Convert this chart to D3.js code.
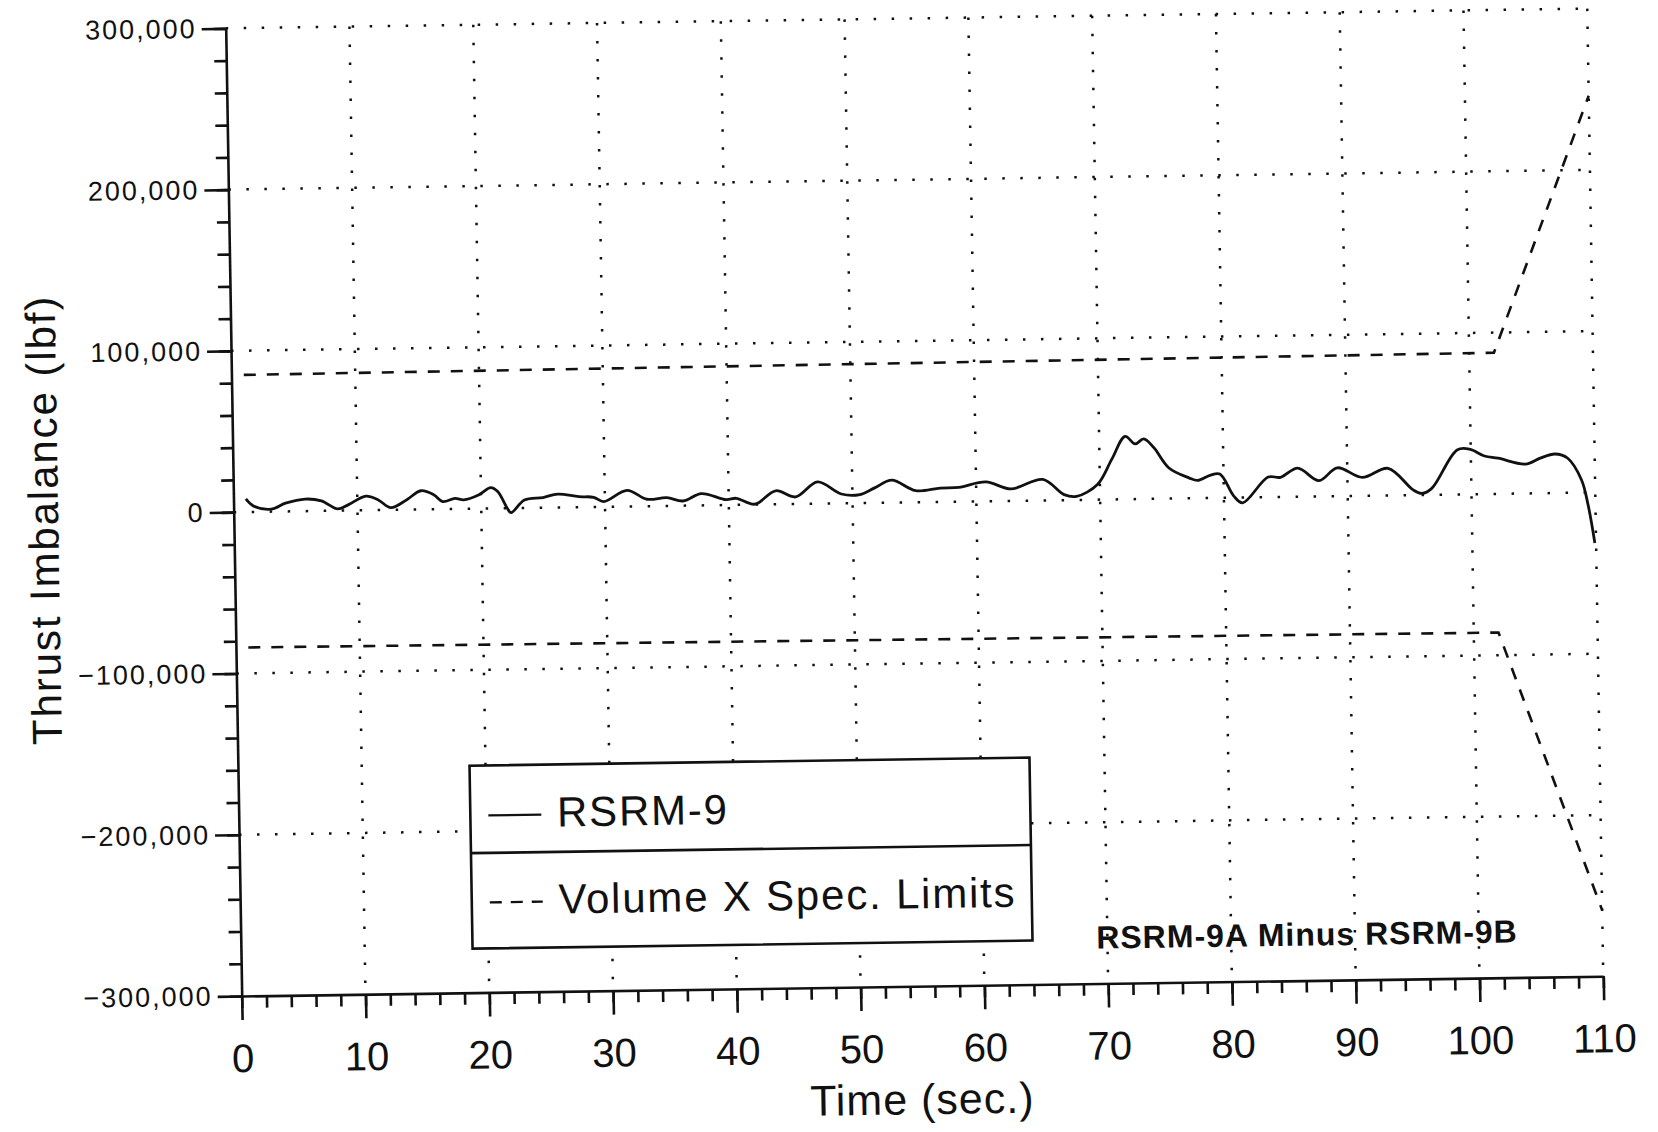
<!DOCTYPE html>
<html>
<head>
<meta charset="utf-8">
<script src="https://cdn.jsdelivr.net/npm/d3@7"></script>
<style>
  body { margin: 0; background: #fff; }
  text { font-family: "Liberation Sans", Arial, sans-serif; fill: #111; }
</style>
</head>
<body>
<div id="chart"></div>
<script>
// RSRM-9 thrust imbalance (lbf) against time (sec.)
const rsrmTime = [1.0, 1.6, 3.05, 4.2, 5.8, 7.1, 8.4, 9.25, 10.7, 11.7, 12.7, 14.0, 15.15, 16.2, 16.9, 17.9, 18.6, 19.8,
  20.8, 21.35, 22.1, 22.4, 23.5, 25.0, 26.2, 27.9, 29.1, 29.9, 31.8, 33.4, 35.0, 36.3, 37.8, 39.8, 40.6, 42.1, 43.8,
  45.4, 47.2, 49.1, 50.6, 51.8, 53.2, 55.1, 57.1, 58.6, 60.8, 62.8, 65.4, 67.1, 68.1, 69.8, 71.0, 72.1, 72.9, 73.6,
  74.4, 75.6, 77.2, 77.9, 78.9, 79.7, 80.8, 81.5, 83.6, 84.6, 86.0, 87.7, 89.2, 91.2, 93.3, 95.3, 96.0, 96.8, 98.9,
  99.9, 101.1, 102.2, 104.4, 105.6, 106.8, 107.8, 108.9, 109.4, 109.9];
const rsrmValue = [8100, 3700, 1500, 5100, 7500, 6200, 1100, 3500, 8800, 6300, 1400, 6200, 11600, 8900, 4700, 6600, 5600, 8500,
  12900, 10400, 0, -2800, 4900, 6300, 8300, 6500, 6000, 3200, 10000, 4300, 5100, 2900, 7300, 3300, 4100, 250, 8400,
  4400, 13500, 5800, 5300, 9300, 13900, 7200, 8600, 8900, 12000, 7400, 13000, 3400, 2200, 9400, 25000, 39000, 34200, 37300,
  31800, 19000, 12700, 11000, 14100, 14800, 1000, -3300, 12500, 12200, 17800, 9800, 17600, 11400, 16800, 3200, 1000, 4000, 27600,
  28000, 23600, 22100, 18200, 21800, 24200, 21600, 8000, -7500, -31300];

// Volume X spec. limits
const limitTime = [1, 102, 110];
const upperLimit = [85000, 87500, 246000];
const lowerLimit = [-84000, -86000, -259000];

// axis ticks
const yMajorTicks = [-300000, -200000, -100000, 0, 100000, 200000, 300000];
const yGridTicks = [-200000, -100000, 0, 100000, 200000, 300000];
const xMajorTicks = [0, 10, 20, 30, 40, 50, 60, 70, 80, 90, 100, 110];
const xGridTicks = [10, 20, 30, 40, 50, 60, 70, 80, 90, 100, 110];

const legendLabels = ["RSRM-9", "Volume X Spec. Limits"];

const width = 1658, height = 1132;
const W = 1361.7, H = 967.8;

const svg = d3.select("#chart").append("svg")
  .attr("width", width)
  .attr("height", height)
  .style("background", "#fff");

// the scanned page sits slightly skewed
const g = svg.append("g")
  .attr("transform", "matrix(0.9999,-0.01449,0.01653,0.99986,225.7,28.34)");

const x = d3.scaleLinear().domain([0, 110]).range([0, W]);
const y = d3.scaleLinear().domain([-300000, 300000]).range([H, 0]);

//////////////// dotted grid ////////////////
const grid = g.append("g").attr("class", "grid")
  .style("stroke", "#111")
  .style("stroke-width", 2.5)
  .style("stroke-dasharray", "2.5 15.5");

grid.selectAll(".hgrid").data(yGridTicks).enter().append("line")
  .attr("x1", 0).attr("x2", x(110))
  .attr("y1", d => y(d)).attr("y2", d => y(d));

grid.selectAll(".vgrid").data(xGridTicks).enter().append("line")
  .attr("x1", d => x(d)).attr("x2", d => x(d))
  .attr("y1", y(300000)).attr("y2", y(-300000));

//////////////// series ////////////////
const line = d3.line()
  .x(d => x(d[0]))
  .y(d => y(d[1]));

g.append("path")
  .datum(limitTime.map((t, i) => [t, upperLimit[i]]))
  .attr("d", line)
  .style("fill", "none").style("stroke", "#111")
  .style("stroke-width", 2.6).style("stroke-dasharray", "12 11");

g.append("path")
  .datum(limitTime.map((t, i) => [t, lowerLimit[i]]))
  .attr("d", line)
  .style("fill", "none").style("stroke", "#111")
  .style("stroke-width", 2.6).style("stroke-dasharray", "12 11");

g.append("path")
  .datum(rsrmTime.map((t, i) => [t, rsrmValue[i]]))
  .attr("d", line.curve(d3.curveCatmullRom.alpha(0.5)))
  .style("fill", "none").style("stroke", "#111")
  .style("stroke-width", 2.8).style("stroke-linejoin", "round");

//////////////// axes ////////////////
const yMinor = g.append("g")
  .call(d3.axisLeft(y).tickValues(d3.range(-300000, 300001, 20000)).tickSize(12).tickFormat(""));
yMinor.select(".domain").remove();

const yAxis = g.append("g")
  .call(d3.axisLeft(y).tickValues(yMajorTicks).tickSize(24).tickSizeOuter(0)
    .tickPadding(5).tickFormat(d3.format(",")));
yAxis.selectAll("text")
  .style("font-size", "27px")
  .style("letter-spacing", "2px");

const xMinor = g.append("g").attr("transform", `translate(0,${H})`)
  .call(d3.axisBottom(x).tickValues(d3.range(0, 111, 2)).tickSize(12).tickFormat(""));
xMinor.select(".domain").remove();

const xAxis = g.append("g").attr("transform", `translate(0,${H})`)
  .call(d3.axisBottom(x).tickValues(xMajorTicks).tickSize(24).tickSizeOuter(0));
xAxis.selectAll("text")
  .attr("y", 76).attr("dy", null)
  .style("font-size", "40px");

g.selectAll(".domain, .tick line")
  .style("stroke", "#111")
  .style("stroke-width", 2.6);
g.selectAll(".tick text").style("fill", "#111");

//////////////// titles ////////////////
g.append("text")
  .attr("transform", `translate(-175.6,${H / 2 + 5}) rotate(-90)`)
  .attr("text-anchor", "middle")
  .style("font-size", "42px")
  .style("letter-spacing", "1.9px")
  .text("Thrust Imbalance (lbf)");

g.append("text")
  .attr("x", W / 2 - 2)
  .attr("y", H + 128)
  .attr("text-anchor", "middle")
  .style("font-size", "43px")
  .style("letter-spacing", "1px")
  .text("Time (sec.)");

g.append("text")
  .attr("x", 855.4)
  .attr("y", 932.8)
  .style("font-size", "32px")
  .style("font-weight", "bold")
  .style("letter-spacing", "1px")
  .text("RSRM-9A Minus RSRM-9B");

//////////////// legend ////////////////
const legend = g.append("g").attr("transform", "translate(231.6,740.8)");
legend.append("rect")
  .attr("width", 560).attr("height", 183)
  .style("fill", "#fff").style("stroke", "#111").style("stroke-width", 2.6);
legend.append("line")
  .attr("x1", 0).attr("x2", 560).attr("y1", 87.5).attr("y2", 87.5)
  .style("stroke", "#111").style("stroke-width", 2.6);

const rows = [{y: 62, dash: null}, {y: 149, dash: "12 9"}];
rows.forEach((r, i) => {
  legend.append("line")
    .attr("x1", 18).attr("x2", 71)
    .attr("y1", r.y - 12).attr("y2", r.y - 12)
    .style("stroke", "#111").style("stroke-width", 2.4)
    .style("stroke-dasharray", r.dash);
  legend.append("text")
    .attr("x", 86.7).attr("y", r.y)
    .style("font-size", "42px")
    .style("letter-spacing", "1.8px")
    .text(legendLabels[i]);
});
</script>
</body>
</html>
